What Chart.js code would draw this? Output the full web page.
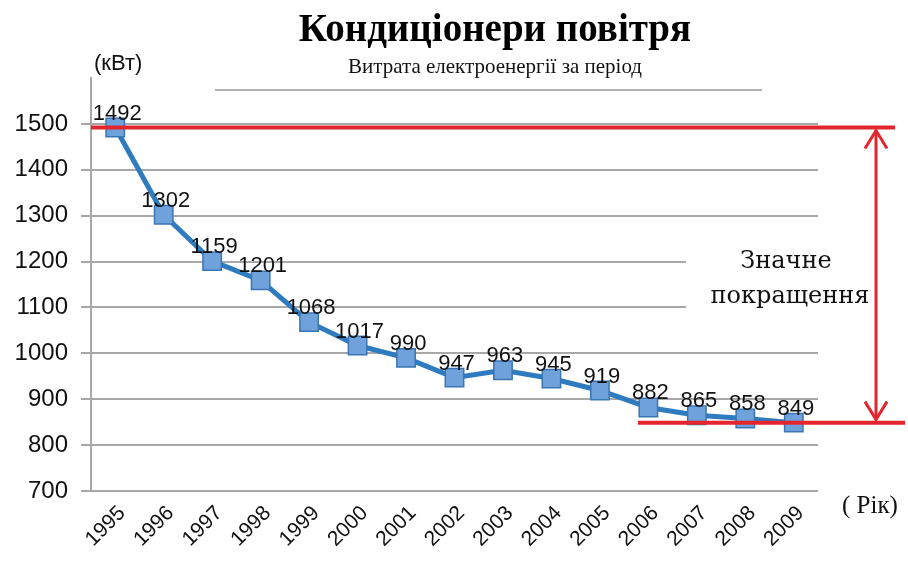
<!DOCTYPE html>
<html><head><meta charset="utf-8">
<script src="https://cdn.jsdelivr.net/npm/chart.js@4/dist/chart.umd.min.js"></script>
<style>html,body{margin:0;padding:0;background:#fff}#wrap{width:908px;height:564px;position:relative}</style>
</head><body><div id="wrap"><canvas id="c"></canvas></div>
<script>
const years = ['1995','1996','1997','1998','1999','2000','2001','2002','2003','2004','2005','2006','2007','2008','2009'];
const consumption = [1492, 1302, 1201, 1159, 1068, 1017, 990, 947, 963, 945, 919, 882, 865, 858, 849];
const pointLabels = ['1492','1302','1159','1201','1068','1017','990','947','963','945','919','882','865','858','849'];
const yMin = 700, yMax = 1600, yStep = 100;
const startValue = 1492, endValue = 849;
const titleText = 'Кондиціонери повітря';
const subtitleText = 'Витрата електроенергії за період';
const yUnit = '(кВт)';
const xUnit = '( Рік)';
const noteLines = ['Значне', 'покращення'];

const extras = {
  id: 'extras',
  afterDatasetsDraw(chart) {
    const ctx = chart.ctx;
    const y = chart.scales.y, x = chart.scales.x;
    const area = chart.chartArea;
    ctx.save();
    // title and subtitle
    ctx.fillStyle = '#000';
    ctx.textAlign = 'center'; ctx.textBaseline = 'alphabetic';
    ctx.font = 'bold 39px "Liberation Serif"';
    ctx.fillText(titleText, 495, 41);
    ctx.fillStyle = '#111';
    ctx.font = '21px "Liberation Serif"';
    ctx.fillText(subtitleText, 495, 73);
    // gray rule under subtitle
    ctx.strokeStyle = '#b0b0b0'; ctx.lineWidth = 2;
    ctx.beginPath(); ctx.moveTo(215, 90); ctx.lineTo(762, 90); ctx.stroke();
    // white box behind note
    ctx.fillStyle = '#fff';
    ctx.fillRect(686, 232, 180, 100);
    // red reference lines
    const yTop = y.getPixelForValue(startValue);
    const yBot = y.getPixelForValue(endValue);
    ctx.strokeStyle = '#e3262d'; ctx.lineWidth = 4;
    ctx.beginPath(); ctx.moveTo(area.left, yTop); ctx.lineTo(895, yTop); ctx.stroke();
    ctx.beginPath(); ctx.moveTo(x.getPixelForValue(10) + 38, yBot); ctx.lineTo(905, yBot); ctx.stroke();
    // double arrow
    const ax = 876, a1 = yTop + 3, a2 = yBot - 3;
    ctx.lineWidth = 3;
    ctx.beginPath(); ctx.moveTo(ax, a1); ctx.lineTo(ax, a2); ctx.stroke();
    ctx.beginPath(); ctx.moveTo(ax - 11, a1 + 18); ctx.lineTo(ax, a1); ctx.lineTo(ax + 11, a1 + 18); ctx.stroke();
    ctx.beginPath(); ctx.moveTo(ax - 11, a2 - 18); ctx.lineTo(ax, a2); ctx.lineTo(ax + 11, a2 - 18); ctx.stroke();
    // note text
    ctx.fillStyle = '#111';
    ctx.font = '24px "DejaVu Serif"';
    ctx.textAlign = 'center'; ctx.textBaseline = 'middle';
    ctx.fillText(noteLines[0], 786, 262);
    ctx.fillText(noteLines[1], 790, 297);
    // units
    ctx.font = '22px "Liberation Sans"';
    ctx.textAlign = 'left';
    ctx.fillText(yUnit, 94, 64);
    ctx.font = '25px "Liberation Serif"';
    ctx.fillText(xUnit, 842, 506);
    // data labels
    const meta = chart.getDatasetMeta(0);
    ctx.font = '22px "Liberation Sans"';
    ctx.fillStyle = '#111';
    ctx.textAlign = 'center'; ctx.textBaseline = 'alphabetic';
    meta.data.forEach((pt, i) => {
      ctx.fillText(pointLabels[i], pt.x + 2, pt.y - 8);
    });
    ctx.restore();
  }
};

new Chart(document.getElementById('c'), {
  type: 'line',
  data: {
    labels: years,
    datasets: [{
      data: consumption,
      borderColor: '#2f7bbf',
      borderWidth: 5,
      pointStyle: 'rect',
      pointRadius: 13,
      pointBackgroundColor: '#6fa2da',
      pointBorderColor: '#3a76b3',
      pointBorderWidth: 1.5,
      tension: 0,
      fill: false
    }]
  },
  options: {
    responsive: true,
    maintainAspectRatio: false,
    animation: false,
    devicePixelRatio: 1,
    layout: { padding: { top: 78, right: 90, bottom: 0, left: 0 } },
    plugins: {
      legend: { display: false },
      tooltip: { enabled: false },
      title: { display: false },
      subtitle: { display: false }
    },
    scales: {
      x: {
        offset: true,
        grid: { display: false },
        border: { display: false },
        ticks: { color: '#111', font: { family: '"Liberation Sans"', size: 21 }, maxRotation: 45, minRotation: 45, autoSkip: false, padding: 2, labelOffset: 7 },
        afterFit(s) { s.height = 73; }
      },
      y: {
        min: yMin, max: yMax,
        grid: {
          color: c => (c.tick && c.tick.value === yMax) ? 'rgba(0,0,0,0)' : '#a8a8a8',
          lineWidth: 2, tickLength: 10
        },
        border: { display: true, color: '#a8a8a8', width: 2 },
        ticks: {
          stepSize: yStep, autoSkip: false, color: '#111', padding: 13,
          font: { family: '"Liberation Sans"', size: 24 },
          callback: v => v === yMax ? '' : v
        },
        afterFit(s) { s.width = 91; }
      }
    }
  },
  plugins: [extras]
});
</script>
</body></html>
